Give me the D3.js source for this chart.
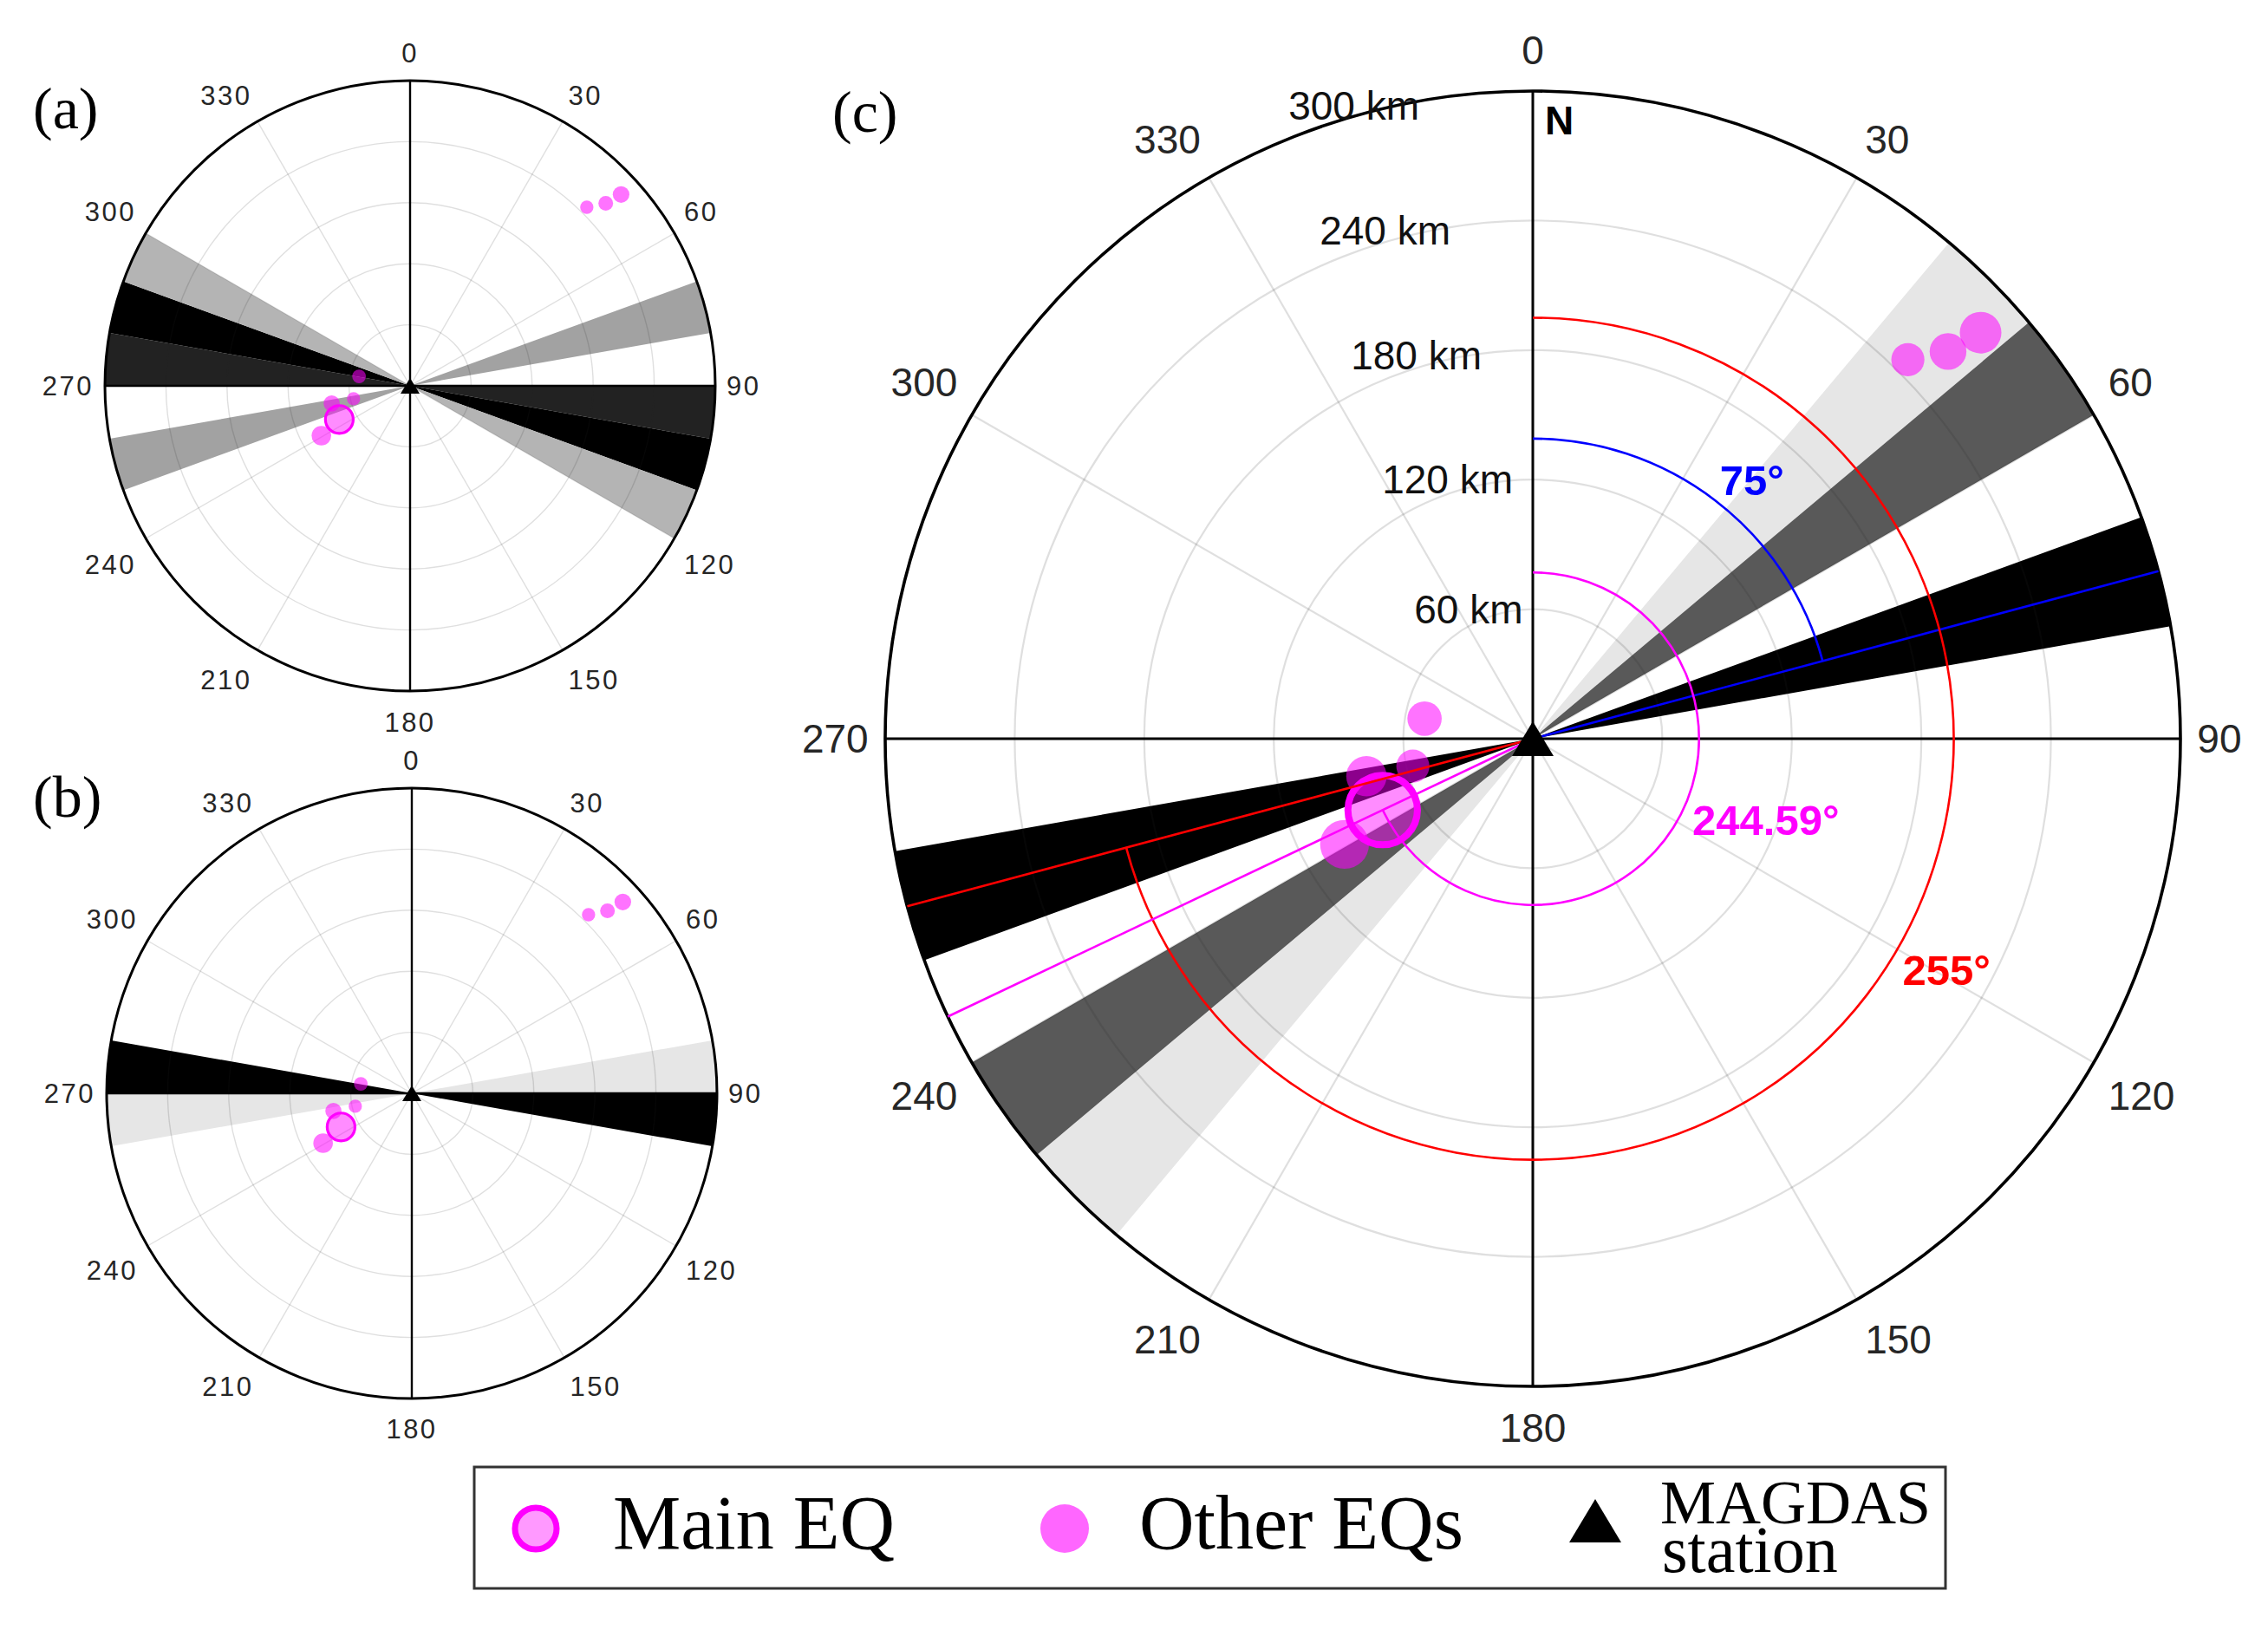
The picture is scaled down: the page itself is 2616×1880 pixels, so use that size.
<!DOCTYPE html>
<html>
<head>
<meta charset="utf-8">
<script src="https://cdn.jsdelivr.net/npm/d3@7"></script>
<style>
  body { margin: 0; background: #fff; }
  svg { display: block; }
</style>
</head>
<body>
<div id="chart"></div>
<script>
const width = 2616;
const height = 1880;

// Earthquakes around the MAGDAS station (azimuth clockwise from N, distance in km)
const eqAzimuth = [44.7, 47.0, 47.8, 280.5, 257.1, 257.3, 240.7];
const eqDistance = [247, 263, 280, 51, 57, 79, 100];
const eqMagnitude = [4.3, 4.6, 5.0, 4.4, 4.3, 4.9, 5.6];

const mainAzimuth = 244.59;
const mainDistance = 77;
const mainMagnitude = 7.3;

// polar axes ticks
const angleTicks = d3.range(0, 360, 30);
const distTicks = [60, 120, 180, 240, 300];
const sectorWidth = 10;

// shaded 10 deg sectors: start azimuth and shade level
const sectorStartA = [70, 250, 90, 270, 100, 280, 110, 290];
const sectorLevelA = [2, 2, 3, 3, 4, 4, 1, 1];
const sectorStartB = [80, 260, 90, 270];
const sectorLevelB = [1, 1, 4, 4];
const sectorStartC = [40, 220, 50, 230, 70, 250];
const sectorLevelC = [1, 1, 3, 3, 4, 4];

// direction annotations in panel (c)
const dirAzimuth = [75, 255, 244.59];
const dirArcDistance = [139, 195, 77];
const dirLabel = ["75°", "255°", "244.59°"];

const svg = d3.select("#chart").append("svg")
  .attr("width", width)
  .attr("height", height)
  .attr("viewBox", [0, 0, width, height])
  .style("font-family", "'Liberation Sans', Arial, sans-serif");

svg.append("rect").attr("width", width).attr("height", height).attr("fill", "#fff");

const rad = d => d * Math.PI / 180;
const triangle = (w, h) => `M0,${-h / 2}L${w / 2},${h / 2}L${-w / 2},${h / 2}Z`;
const magenta = "#ff00ff";

function drawPanel(opt) {
  const g = svg.append("g").attr("transform", `translate(${opt.cx},${opt.cy})`);
  const r = d3.scaleLinear().domain([0, 300]).range([0, opt.R]);
  const shade = d3.scaleOrdinal().domain([1, 2, 3, 4]).range(opt.colors);
  const size = d3.scaleLinear().domain([4, 7]).range([17 * opt.k, 38 * opt.k]);
  const sector = d3.arc().innerRadius(0).outerRadius(opt.R);

  // sectors
  g.selectAll("path.sector")
    .data(d3.zip(opt.sectorStart, opt.sectorLevel))
    .join("path")
    .attr("class", "sector")
    .attr("d", d => sector({ startAngle: rad(d[0]), endAngle: rad(d[0] + sectorWidth) }))
    .attr("fill", d => shade(d[1]));

  // grid
  g.selectAll("circle.ring")
    .data(distTicks.slice(0, -1))
    .join("circle")
    .attr("class", "ring")
    .attr("r", d => r(d))
    .attr("fill", "none")
    .attr("stroke", "#262626")
    .attr("stroke-opacity", 0.15)
    .attr("stroke-width", opt.gridW);

  g.selectAll("line.spoke")
    .data(angleTicks.filter(a => a % 90 !== 0))
    .join("line")
    .attr("class", "spoke")
    .attr("x2", a => d3.pointRadial(rad(a), opt.R)[0])
    .attr("y2", a => d3.pointRadial(rad(a), opt.R)[1])
    .attr("stroke", "#262626")
    .attr("stroke-opacity", 0.15)
    .attr("stroke-width", opt.gridW);

  // black N-S / E-W axes and outer circle
  g.selectAll("line.axis")
    .data([0, 90])
    .join("line")
    .attr("class", "axis")
    .attr("x1", a => d3.pointRadial(rad(a), opt.R)[0])
    .attr("y1", a => d3.pointRadial(rad(a), opt.R)[1])
    .attr("x2", a => d3.pointRadial(rad(a + 180), opt.R)[0])
    .attr("y2", a => d3.pointRadial(rad(a + 180), opt.R)[1])
    .attr("stroke", "#000")
    .attr("stroke-width", opt.axisW);

  g.append("circle")
    .attr("r", opt.R)
    .attr("fill", "none")
    .attr("stroke", "#000")
    .attr("stroke-width", opt.axisW + 0.6);

  // other earthquakes
  g.selectAll("circle.eq")
    .data(d3.range(eqAzimuth.length))
    .join("circle")
    .attr("class", "eq")
    .attr("cx", i => d3.pointRadial(rad(eqAzimuth[i]), r(eqDistance[i]))[0])
    .attr("cy", i => d3.pointRadial(rad(eqAzimuth[i]), r(eqDistance[i]))[1])
    .attr("r", i => size(eqMagnitude[i]))
    .attr("fill", magenta)
    .attr("fill-opacity", 0.55);

  // main earthquake
  const mp = d3.pointRadial(rad(mainAzimuth), r(mainDistance));
  g.append("circle")
    .attr("cx", mp[0])
    .attr("cy", mp[1])
    .attr("r", size(mainMagnitude))
    .attr("fill", magenta)
    .attr("fill-opacity", 0.45)
    .attr("stroke", magenta)
    .attr("stroke-width", 8 * opt.k);

  if (opt.annotate) {
    const dirColor = d3.scaleOrdinal().domain(dirLabel).range(["#0000ff", "#ff0000", magenta]);
    dirAzimuth.forEach((az, i) => {
      const end = d3.pointRadial(rad(az), opt.R);
      g.append("line")
        .attr("x2", end[0]).attr("y2", end[1])
        .attr("stroke", dirColor(dirLabel[i]))
        .attr("stroke-width", 2.6);
      const p = d3.path();
      p.arc(0, 0, r(dirArcDistance[i]), -Math.PI / 2, rad(az) - Math.PI / 2);
      g.append("path")
        .attr("d", p.toString())
        .attr("fill", "none")
        .attr("stroke", dirColor(dirLabel[i]))
        .attr("stroke-width", 2.6);
    });

    // label spots (azimuth, km) for the angle annotations
    const labelSpot = [[40.3, 157], [119.2, 219.5], [109.3, 114.4]];
    g.selectAll("text.dir")
      .data(dirLabel)
      .join("text")
      .attr("class", "dir")
      .attr("x", (d, i) => d3.pointRadial(rad(labelSpot[i][0]), r(labelSpot[i][1]))[0])
      .attr("y", (d, i) => d3.pointRadial(rad(labelSpot[i][0]), r(labelSpot[i][1]))[1] + 17)
      .attr("text-anchor", "middle")
      .attr("font-size", 49)
      .attr("font-weight", "bold")
      .attr("fill", d => dirColor(d))
      .text(d => d);

    // distance labels
    g.selectAll("text.km")
      .data(distTicks)
      .join("text")
      .attr("class", "km")
      .attr("x", d => -Math.max(0.077 * r(d), 0.241 * r(d) - 49))
      .attr("y", d => -r(d) + Math.max(0, 0.038 * (r(d) - 299)) + 0.35 * opt.fs)
      .attr("text-anchor", "end")
      .attr("font-size", opt.fs)
      .attr("fill", "#111")
      .text(d => `${d} km`);

    g.append("text")
      .attr("x", 14)
      .attr("y", -opt.R + 50)
      .attr("font-size", opt.fs)
      .attr("font-weight", "bold")
      .attr("fill", "#000")
      .text("N");
  }

  // station
  g.append("path")
    .attr("d", triangle(opt.tri[0], opt.tri[1]))
    .attr("fill", "#000");

  // angle tick labels
  g.selectAll("text.atick")
    .data(angleTicks)
    .join("text")
    .attr("class", "atick")
    .each(function(a) {
      const s = Math.sin(rad(a)), c = Math.cos(rad(a));
      const [px, py] = d3.pointRadial(rad(a), opt.R + 0.42 * opt.fs);
      const anchor = s > 0.01 ? "start" : s < -0.01 ? "end" : "middle";
      const y = c > 0.01 ? py - 0.25 * opt.fs : c < -0.01 ? py + opt.low * opt.fs : py + 0.35 * opt.fs;
      d3.select(this).attr("x", px).attr("y", y).attr("text-anchor", anchor);
    })
    .attr("font-size", opt.fs)
    .attr("letter-spacing", opt.ls)
    .attr("fill", "#262626")
    .text(a => a);

  svg.append("text")
    .attr("x", opt.tag[0])
    .attr("y", opt.tag[1])
    .attr("font-family", "'Liberation Serif', 'Times New Roman', serif")
    .attr("font-size", 68)
    .attr("fill", "#000")
    .text(opt.label);
}

drawPanel({
  label: "(a)", tag: [38, 148], cx: 473, cy: 445, R: 352, k: 0.4, fs: 31, ls: 2.5, low: 1.1,
  gridW: 1.4, axisW: 2.4, tri: [22, 18],
  sectorStart: sectorStartA, sectorLevel: sectorLevelA,
  colors: ["#b4b4b4", "#a2a2a2", "#222222", "#000000"]
});

drawPanel({
  label: "(b)", tag: [38, 942], cx: 475, cy: 1261, R: 352, k: 0.4, fs: 31, ls: 2.5, low: 1.05,
  gridW: 1.4, axisW: 2.4, tri: [22, 18],
  sectorStart: sectorStartB, sectorLevel: sectorLevelB,
  colors: ["#e6e6e6", "#a2a2a2", "#595959", "#000000"]
});

drawPanel({
  label: "(c)", tag: [960, 152], cx: 1768, cy: 852, R: 747, k: 1, fs: 46, ls: 0, low: 0.98,
  gridW: 2.2, axisW: 3, tri: [48, 40], annotate: true,
  sectorStart: sectorStartC, sectorLevel: sectorLevelC,
  colors: ["#e6e6e6", "#a2a2a2", "#595959", "#000000"]
});

// legend
const legend = svg.append("g");
legend.append("rect")
  .attr("x", 547).attr("y", 1692)
  .attr("width", 1697).attr("height", 140)
  .attr("fill", "#fff")
  .attr("stroke", "#333")
  .attr("stroke-width", 3);

legend.append("circle")
  .attr("cx", 618).attr("cy", 1763).attr("r", 24)
  .attr("fill", magenta).attr("fill-opacity", 0.4)
  .attr("stroke", magenta).attr("stroke-width", 7);
legend.append("circle")
  .attr("cx", 1228).attr("cy", 1763).attr("r", 28)
  .attr("fill", magenta).attr("fill-opacity", 0.6);
legend.append("path")
  .attr("transform", "translate(1840,1754)")
  .attr("d", triangle(60, 50))
  .attr("fill", "#000");

const serif = "'Liberation Serif', 'Times New Roman', serif";
[["Main EQ", 707, 1786, 88], ["Other EQs", 1314, 1786, 88], ["MAGDAS", 1915, 1757, 72], ["station", 1917, 1813, 76]]
  .forEach(([t, x, y, fs]) => {
    legend.append("text")
      .attr("x", x).attr("y", y)
      .attr("font-family", serif)
      .attr("font-size", fs)
      .attr("fill", "#000")
      .text(t);
  });
</script>
</body>
</html>
